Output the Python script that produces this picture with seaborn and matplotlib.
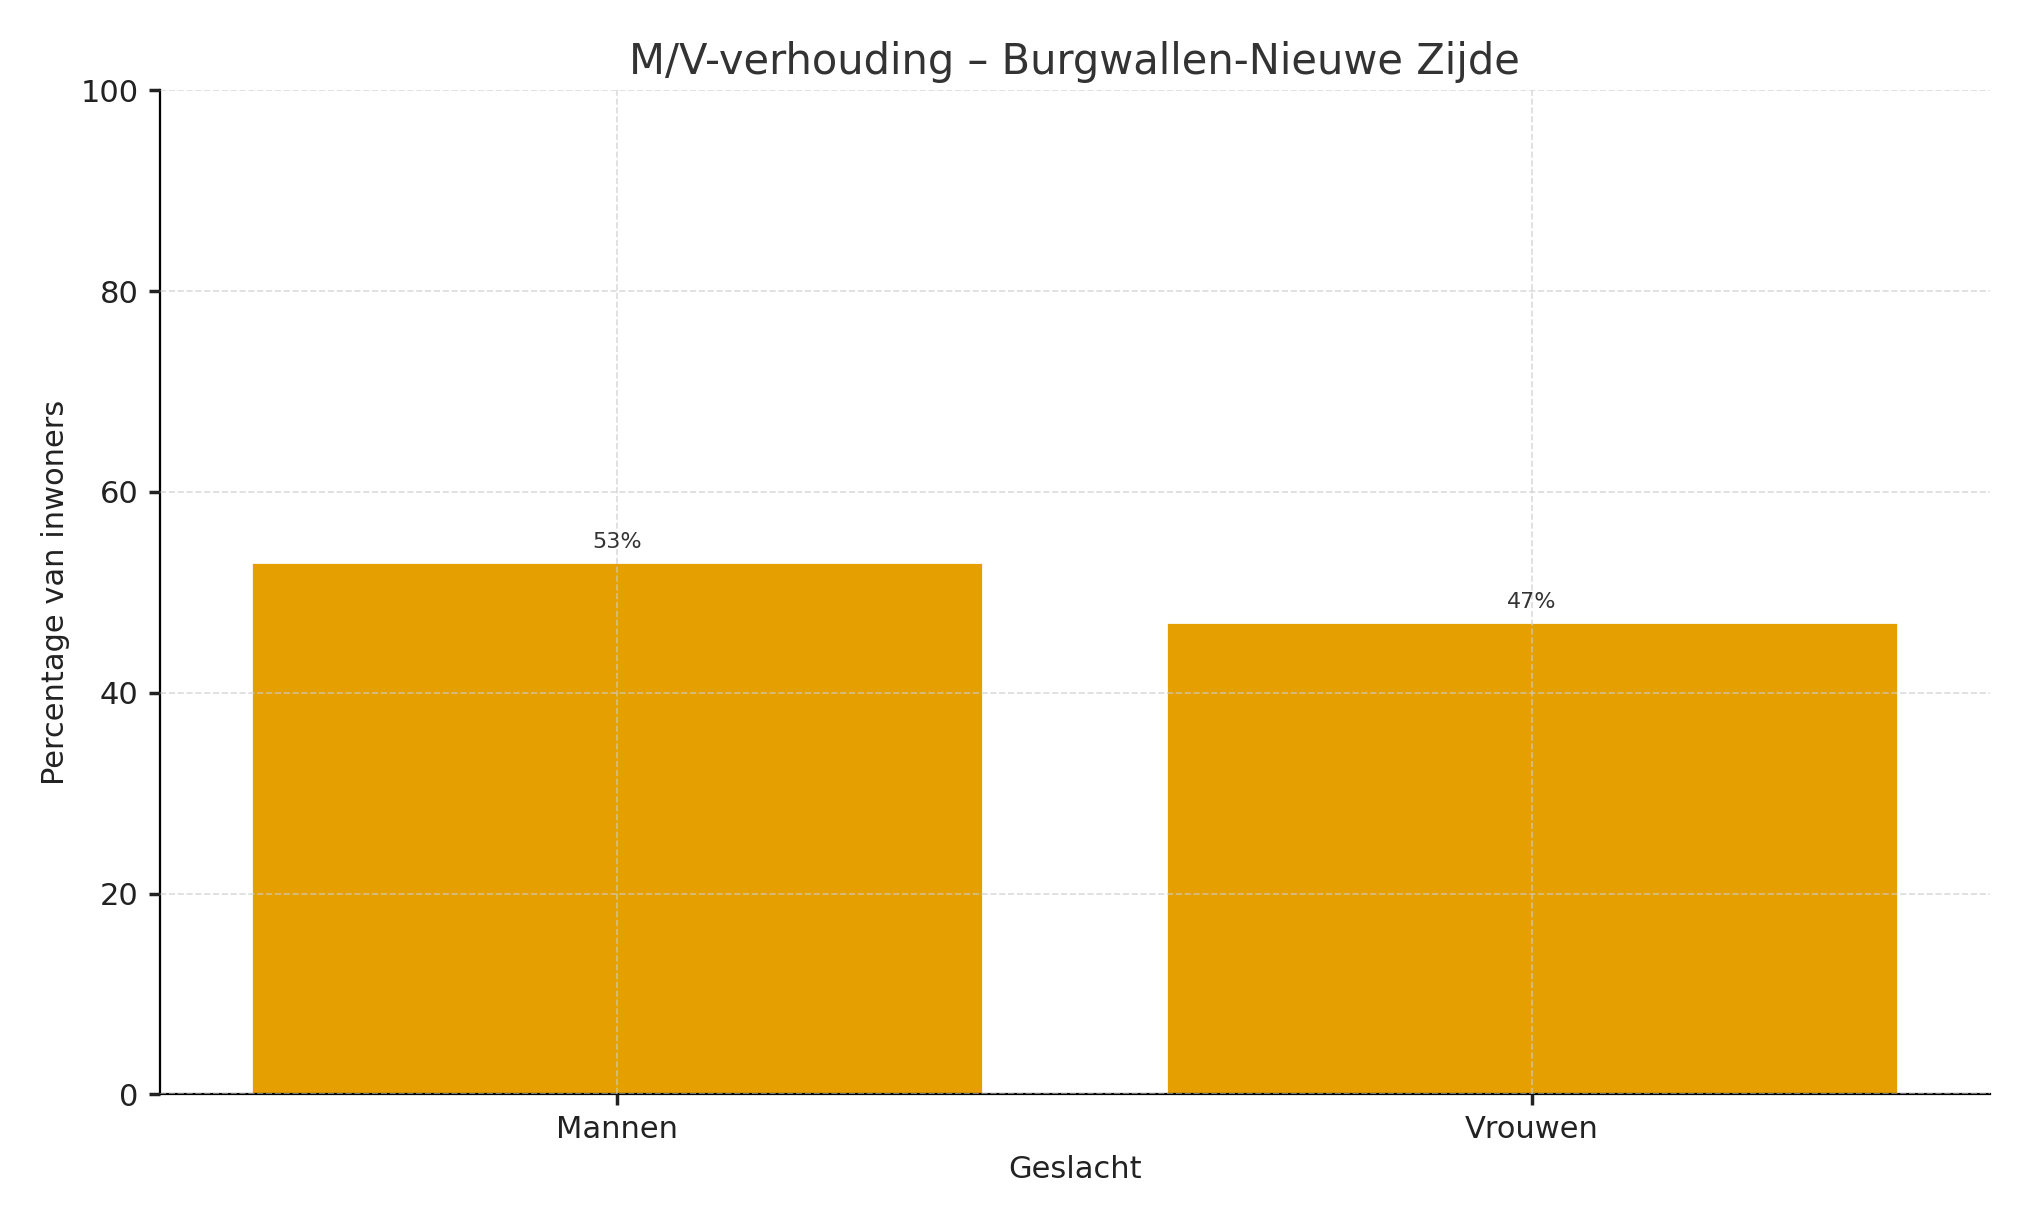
import matplotlib
matplotlib.use("Agg")
import matplotlib.pyplot as plt
import seaborn as sns
import pandas as pd

categories = ["Mannen", "Vrouwen"]
values = [53, 47]
labels = ["53%", "47%"]

sns.set_theme(style="white")
plt.rcParams['font.family'] = ['DejaVu Sans']

fig = plt.figure(figsize=(10.1, 6.1), dpi=200)
ax = fig.add_axes([0.079, 0.103, 0.906, 0.823])
df = pd.DataFrame({"Geslacht": categories, "Pct": values})
sns.barplot(data=df, x="Geslacht", y="Pct", color="#E69F00", saturation=1, width=0.8, ax=ax)
for i, (v, l) in enumerate(zip(values, labels)):
    ax.text(i, v + 1, l, ha="center", va="bottom", fontsize=8, color="#333333")
ax.set_ylim(0, 100)
ax.set_yticks([0, 20, 40, 60, 80, 100])
ax.grid(True, linestyle="--", color="#cccccc", alpha=0.7, linewidth=0.6)
ax.set_axisbelow(False)
for s in ["top", "right"]:
    ax.spines[s].set_visible(False)
for s in ["left", "bottom"]:
    ax.spines[s].set_color("black")
    ax.spines[s].set_linewidth(0.8)
ax.tick_params(axis="both", labelsize=11, colors="#222222", length=4, bottom=True, left=True)
ax.set_xlabel("Geslacht", fontsize=11, color="#222222")
ax.set_ylabel("Percentage van inwoners", fontsize=11, color="#222222")
ax.set_title("M/V-verhouding – Burgwallen-Nieuwe Zijde", fontsize=15, color="#333333")
fig.savefig("out.png", dpi=200)
